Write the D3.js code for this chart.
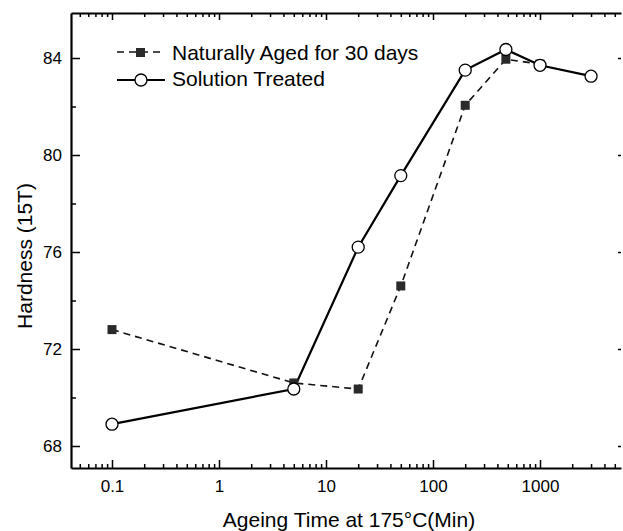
<!DOCTYPE html>
<html>
<head>
<meta charset="utf-8">
<script src="https://cdn.jsdelivr.net/npm/d3@7"></script>
<style>
    body { margin: 0; background: #fff; }
    svg { display: block; font-family: "Liberation Sans", Arial, sans-serif; }
</style>
</head>
<body>
<svg id="chart" width="623" height="531"></svg>
<script>
// ageing time (min) and hardness values
const naturalTimes = [0.1, 5, 20, 50, 200, 480, 1000];
const naturalHardness = [72.8, 70.6, 70.35, 74.6, 82.05, 83.95, 83.75];

const solutionTimes = [0.1, 5, 20, 50, 200, 480, 1000, 3000];
const solutionHardness = [68.9, 70.35, 76.2, 79.15, 83.5, 84.35, 83.7, 83.25];

const xMajorTicks = [0.1, 1, 10, 100, 1000];
const yMajorTicks = [68, 72, 76, 80, 84];
const yMinorTicks = [70, 74, 78, 82];

const legendLabels = ['Naturally Aged for 30 days', 'Solution Treated'];

const svg = d3.select('#chart');
const margin = { top: 13, right: 2, bottom: 63, left: 71 };
const width = 623 - margin.left - margin.right;
const height = 531 - margin.top - margin.bottom;

const g = svg.append('g').attr('transform', `translate(${margin.left},${margin.top})`);

const x = d3.scaleLog().domain([0.04138, 5715]).range([0, width]);
const y = d3.scaleLinear().domain([67.093, 85.856]).range([height, 0]);

// minor log ticks: 2..9 of each decade inside the domain
const xMinorTicks = [];
for (let p = -2; p <= 3; p++) {
    for (let m = 2; m <= 9; m++) {
        const v = m * Math.pow(10, p);
        if (v > x.domain()[0] && v < x.domain()[1]) xMinorTicks.push(v);
    }
}

const fmt = d => d < 1 ? d3.format('.1f')(d) : d3.format('d')(d);

// bottom axis
g.append('g')
    .attr('transform', `translate(0,${height})`)
    .call(d3.axisBottom(x).tickValues(xMajorTicks).tickFormat(fmt)
        .tickSizeInner(-8).tickSizeOuter(0).tickPadding(12));
g.append('g')
    .attr('transform', `translate(0,${height})`)
    .call(d3.axisBottom(x).tickValues(xMinorTicks).tickFormat('')
        .tickSizeInner(-4).tickSizeOuter(0))
    .select('.domain').remove();

// top axis
g.append('g')
    .call(d3.axisTop(x).tickValues(xMajorTicks).tickFormat('')
        .tickSizeInner(-7).tickSizeOuter(0));
g.append('g')
    .call(d3.axisTop(x).tickValues(xMinorTicks).tickFormat('')
        .tickSizeInner(-4).tickSizeOuter(0))
    .select('.domain').remove();

// left axis
g.append('g')
    .call(d3.axisLeft(y).tickValues(yMajorTicks).tickFormat(d3.format('d'))
        .tickSizeInner(-9).tickSizeOuter(0).tickPadding(9));
g.append('g')
    .call(d3.axisLeft(y).tickValues(yMinorTicks).tickFormat('')
        .tickSizeInner(-5).tickSizeOuter(0))
    .select('.domain').remove();

// right side: only faint tick marks survive in the figure
g.append('g')
    .attr('transform', `translate(${width},0)`)
    .call(d3.axisRight(y).tickValues(yMajorTicks).tickFormat('')
        .tickSizeInner(-3).tickSizeOuter(0))
    .select('.domain').remove();

g.selectAll('.domain').attr('stroke', '#000').attr('stroke-width', 2.2);
g.selectAll('.tick line').attr('stroke', '#000').attr('stroke-width', 1.5);
g.selectAll('.tick text')
    .attr('fill', '#000')
    .attr('font-size', '17px')
    .attr('font-family', '"Liberation Sans", Arial, sans-serif');

// axis titles
svg.append('text')
    .attr('x', 349)
    .attr('y', 527)
    .attr('text-anchor', 'middle')
    .attr('font-size', '21px')
    .text('Ageing Time at 175°C(Min)');

svg.append('text')
    .attr('transform', 'translate(32,256) rotate(-90)')
    .attr('text-anchor', 'middle')
    .attr('font-size', '21px')
    .text('Hardness (15T)');

const line = d3.line().x(d => x(d[0])).y(d => y(d[1]));

const naturalData = naturalTimes.map((t, i) => [t, naturalHardness[i]]);
const solutionData = solutionTimes.map((t, i) => [t, solutionHardness[i]]);

// series lines
g.append('path')
    .datum(naturalData)
    .attr('d', line)
    .attr('fill', 'none')
    .attr('stroke', '#111')
    .attr('stroke-width', 1.6)
    .attr('stroke-dasharray', '7,5');

g.append('path')
    .datum(solutionData)
    .attr('d', line)
    .attr('fill', 'none')
    .attr('stroke', '#000')
    .attr('stroke-width', 2.2);

// markers
g.selectAll('.sq')
    .data(naturalData)
    .enter()
    .append('rect')
    .attr('class', 'sq')
    .attr('x', d => x(d[0]) - 4.5)
    .attr('y', d => y(d[1]) - 4.5)
    .attr('width', 9)
    .attr('height', 9)
    .attr('fill', '#2a2a2a');

g.selectAll('.ci')
    .data(solutionData)
    .enter()
    .append('circle')
    .attr('class', 'ci')
    .attr('cx', d => x(d[0]))
    .attr('cy', d => y(d[1]))
    .attr('r', 6)
    .attr('fill', '#fff')
    .attr('stroke', '#000')
    .attr('stroke-width', 1.3);

// legend
const legend = svg.append('g');

legend.append('line')
    .attr('x1', 117).attr('x2', 160)
    .attr('y1', 52).attr('y2', 52)
    .attr('stroke', '#111')
    .attr('stroke-width', 1.6)
    .attr('stroke-dasharray', '7,5');
legend.append('rect')
    .attr('x', 136).attr('y', 48)
    .attr('width', 9).attr('height', 9)
    .attr('fill', '#2a2a2a');

legend.append('line')
    .attr('x1', 117).attr('x2', 165)
    .attr('y1', 80).attr('y2', 80)
    .attr('stroke', '#000')
    .attr('stroke-width', 2.2);
legend.append('circle')
    .attr('cx', 141).attr('cy', 80).attr('r', 6)
    .attr('fill', '#fff')
    .attr('stroke', '#000')
    .attr('stroke-width', 1.3);

legend.selectAll('.lab')
    .data(legendLabels)
    .enter()
    .append('text')
    .attr('class', 'lab')
    .attr('x', 172)
    .attr('y', (d, i) => 60 + i * 26)
    .attr('font-size', '21px')
    .text(d => d);
</script>
</body>
</html>
